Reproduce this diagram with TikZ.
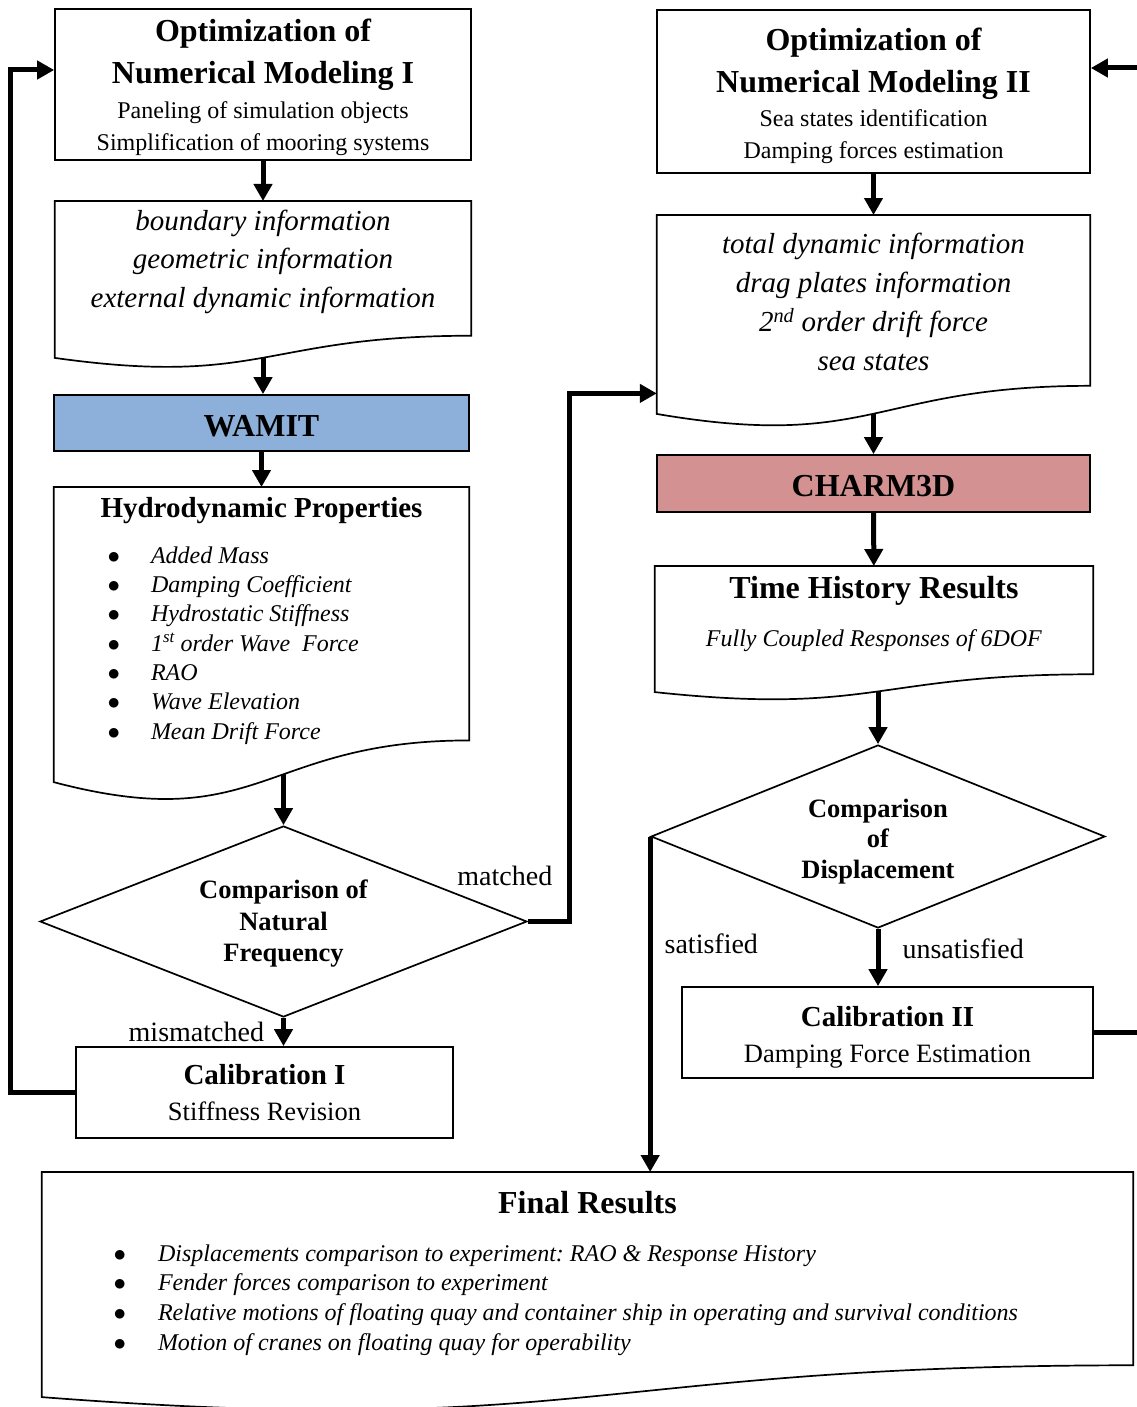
\documentclass[tikz,border=0pt]{standalone}
\usepackage{fontspec}
\setmainfont{Liberation Serif}
\usetikzlibrary{arrows.meta, calc, shapes.geometric}
\frenchspacing

\definecolor{wamitblue}{RGB}{141,176,219}
\definecolor{charmred}{RGB}{212,145,145}

% document outline: node name, full height
\newcommand{\docoutline}[2]{%
  \draw[line width=1.7pt] (#1.north west) -- (#1.north east) -- ++(0,0.802*#2)
    .. controls ($(#1.north)+(0,0.802*#2)$) and ($(#1.north)+(0,1.1075*#2)$)
    .. ($(#1.north west)+(0,0.934*#2)$) -- cycle;
  \coordinate (#1-out) at ($(#1.north)+(0,0.933*#2)$);}
% bullet line: line width, indent, bullet shift, text
\newcommand{\bitem}[4]{\makebox[#1][l]{\makebox[#2][l]{\hspace{#3}$\bullet$}#4}}
\newcommand{\hd}{\fontsize{32}{32}\selectfont\bfseries}
\newcommand{\up}[1]{\rule{0pt}{#1}}

\begin{document}
\begin{tikzpicture}[x=1pt,y=-1pt,
  box/.style={draw, line width=1.7pt, inner sep=0pt, align=center},
  docnode/.style={inner sep=0pt, align=center, anchor=north},
  decision/.style={diamond, draw, line width=1.7pt, inner sep=0pt, aspect=2.5, align=center},
  flow/.style={line width=5pt, -{Triangle[width=18pt,length=17pt]}},
  lbl/.style={font=\fontsize{28}{28}\selectfont, inner sep=0pt}]
  %\draw (0,0) grid[step=100] (1136,1407);
  \useasboundingbox (0,0) rectangle (1136,1407);

  \node[box, minimum width=416, minimum height=151, font=\fontsize{24}{32}\selectfont] (opt1) at (263,84.5)
    {{\hd\up{28pt}Optimization of}\\[10pt]
     {\hd Numerical Modeling I}\\[3pt]
     Paneling of simulation objects\\
     Simplification of mooring systems};
  \node[docnode, minimum width=416, minimum height=121, font=\fontsize{29}{38.5}\selectfont\itshape] (info1) at (263,201)
    {boundary information\\geometric information\\external dynamic information};
  \docoutline{info1}{168}
  \node[box, fill=wamitblue, minimum width=415, minimum height=56, font=\hd] (wamit) at (261.5,423) {\up{27pt}WAMIT};
  \node[docnode, minimum width=415, minimum height=267, font=\fontsize{24}{29.3}\selectfont] (hydro) at (261.5,487)
    {{\fontsize{29}{29}\selectfont\bfseries Hydrodynamic Properties}\\[16.7pt]
     \bitem{310pt}{44.5pt}{1pt}{\textit{Added Mass}}\\
     \bitem{310pt}{44.5pt}{1pt}{\textit{Damping Coefficient}}\\
     \bitem{310pt}{44.5pt}{1pt}{\textit{Hydrostatic Stiffness}}\\
     \bitem{310pt}{44.5pt}{1pt}{\textit{1\textsuperscript{st} order Wave\ \ Force}}\\
     \bitem{310pt}{44.5pt}{1pt}{\textit{RAO}}\\
     \bitem{310pt}{44.5pt}{1pt}{\textit{Wave Elevation}}\\
     \bitem{310pt}{44.5pt}{1pt}{\textit{Mean Drift Force}}};
  \docoutline{hydro}{316}
  \node[decision, minimum width=487, minimum height=191, font=\fontsize{26.5}{31.5}\selectfont\bfseries] (freq) at (283.5,921.5)
    {\up{23pt}Comparison of\\Natural\\Frequency};
  \node[box, minimum width=377, minimum height=91, font=\fontsize{26.5}{36}\selectfont] (cal1) at (264.5,1092.5)
    {{\fontsize{29}{29}\selectfont\bfseries Calibration I}\\Stiffness Revision};

  \node[box, minimum width=433, minimum height=163, font=\fontsize{24}{32}\selectfont] (opt2) at (873.5,91.5)
    {{\hd\up{32pt}Optimization of}\\[10pt]
     {\hd Numerical Modeling II}\\[2pt]
     Sea states identification\\
     Damping forces estimation};
  \node[docnode, minimum width=433, minimum height=173, font=\fontsize{29}{39}\selectfont\itshape] (info2) at (873.5,215)
    {total dynamic information\\drag plates information\\2\textsuperscript{nd} order drift force\\sea states};
  \docoutline{info2}{213}
  \node[box, fill=charmred, minimum width=433, minimum height=57, font=\hd] (charm) at (873.5,483.5) {\up{27pt}CHARM3D};
  \node[docnode, minimum width=438, minimum height=95, font=\fontsize{24}{29}\selectfont] (hist) at (874,566)
    {{\hd Time History Results}\\[19pt]\textit{Fully Coupled Responses of 6DOF}};
  \docoutline{hist}{135}
  \node[decision, minimum width=454, minimum height=183, font=\fontsize{26.5}{30.5}\selectfont\bfseries] (disp) at (878,836.5)
    {\up{28pt}Comparison\\of\\Displacement};
  \node[box, minimum width=411, minimum height=91, font=\fontsize{26.5}{36}\selectfont] (cal2) at (887.5,1032.5)
    {{\fontsize{29}{29}\selectfont\bfseries\up{30pt}Calibration II}\\Damping Force Estimation};

  \node[docnode, minimum width=1091, minimum height=202, font=\fontsize{24}{29.7}\selectfont] (final) at (587.5,1172)
    {{\hd Final Results}\\[18.3pt]
     \bitem{960pt}{50.5pt}{6pt}{\textit{Displacements comparison to experiment: RAO \& Response History}}\\
     \bitem{960pt}{50.5pt}{6pt}{\textit{Fender forces comparison to experiment}}\\
     \bitem{960pt}{50.5pt}{6pt}{\textit{Relative motions of floating quay and container ship in operating and survival conditions}}\\
     \bitem{960pt}{50.5pt}{6pt}{\textit{Motion of cranes on floating quay for operability}}};
  \docoutline{final}{241}

  \draw[flow] (opt1) -- (info1);
  \draw[flow] (info1-out) -- (info1-out |- wamit.north);
  \draw[flow] (wamit) -- (hydro);
  \draw[flow] ([yshift=8pt]hydro-out -| freq.north) -- (freq.north);
  \draw[flow] (freq.south) -- node[lbl, left=17pt] {mismatched} (freq.south |- cal1.north);
  \draw[flow] (freq.east) -- node[lbl, above, xshift=-44pt, yshift=33pt] {matched} ++(42,0) |- ([yshift=-5pt]info2.south west);
  \draw[flow] (cal1.west) -- ++(-65,0) |- ([yshift=14.5pt]opt1.west);

  \draw[flow] (opt2) -- (info2);
  \draw[flow] (info2-out) -- (info2-out |- charm.north);
  \draw[flow] (charm) -- (hist);
  \draw[flow] (hist-out -| disp.north) -- (disp.north);
  \draw[flow] (disp.south) -- node[lbl, right=22pt, yshift=9pt] {unsatisfied} (disp.south |- cal2.north);
  \draw[flow] (disp.west) -- node[lbl, right=12pt, pos=0.32] {satisfied} (disp.west |- final.north);
  \draw[flow] (cal2.east) -- ++(60,0) |- ([yshift=23.5pt]opt2.east);
\end{tikzpicture}
\end{document}
